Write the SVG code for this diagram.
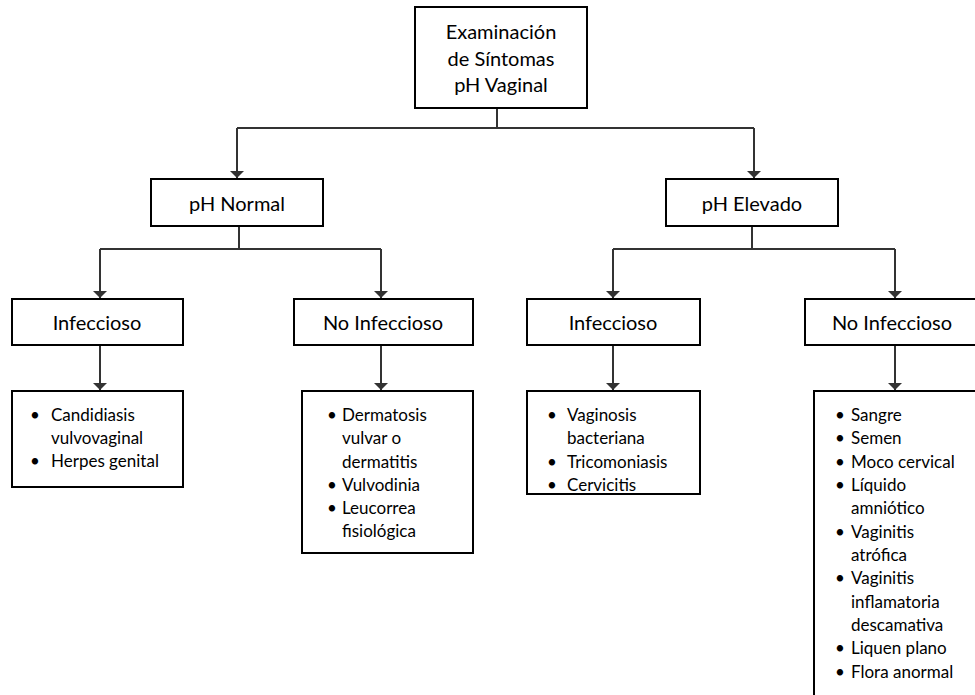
<svg xmlns="http://www.w3.org/2000/svg" width="975" height="695" viewBox="0 0 975 695">
<style>
.box{fill:#fff;stroke:#000;stroke-width:2}
.t{font-family:Lato,"Liberation Sans",sans-serif;fill:#000}
.h{font-size:20px;text-anchor:middle}
.l{font-size:17px}
.c{fill:none;stroke:#333;stroke-width:2}
</style>
<defs>
<marker id="ah" markerWidth="7" markerHeight="14" refX="7" refY="7" orient="auto" markerUnits="userSpaceOnUse" viewBox="0 0 7 14">
<path d="M0,0 L7,7 L0,14 Z" fill="#333"/>
</marker>
</defs>
<rect width="975" height="695" fill="#fff"/>
<g id="connectors">
<path class="c" d="M497,108 V128"/>
<path class="c" d="M237,128 H754"/>
<path class="c" d="M237,128 V178" marker-end="url(#ah)"/>
<path class="c" d="M754,128 V178" marker-end="url(#ah)"/>
<path class="c" d="M239,226 V249"/>
<path class="c" d="M100,249 H381"/>
<path class="c" d="M100,249 V298" marker-end="url(#ah)"/>
<path class="c" d="M381,249 V298" marker-end="url(#ah)"/>
<path class="c" d="M752,226 V249"/>
<path class="c" d="M613,249 H895"/>
<path class="c" d="M613,249 V298" marker-end="url(#ah)"/>
<path class="c" d="M895,249 V298" marker-end="url(#ah)"/>
<path class="c" d="M100,345 V390" marker-end="url(#ah)"/>
<path class="c" d="M381,345 V390" marker-end="url(#ah)"/>
<path class="c" d="M613,345 V390" marker-end="url(#ah)"/>
<path class="c" d="M895,345 V390" marker-end="url(#ah)"/>
</g>
<g id="root">
<rect class="box" x="415" y="7" width="172" height="101"/>
<text class="t h" x="501" y="39">Examinación</text>
<text class="t h" x="501" y="66">de Síntomas</text>
<text class="t h" x="501" y="92">pH Vaginal</text>
</g>
<g id="ph-normal">
<rect class="box" x="151" y="179" width="172" height="47"/>
<text class="t h" x="237" y="211">pH Normal</text>
</g>
<g id="ph-elevado">
<rect class="box" x="666" y="179" width="172" height="47"/>
<text class="t h" x="752" y="211">pH Elevado</text>
</g>
<g id="inf-normal">
<rect class="box" x="12" y="299" width="171" height="46"/>
<text class="t h" x="97" y="330">Infeccioso</text>
</g>
<g id="noinf-normal">
<rect class="box" x="294" y="299" width="179" height="46"/>
<text class="t h" x="383" y="330">No Infeccioso</text>
</g>
<g id="inf-elevado">
<rect class="box" x="527" y="299" width="173" height="46"/>
<text class="t h" x="613" y="330">Infeccioso</text>
</g>
<g id="noinf-elevado">
<rect class="box" x="805" y="299" width="180" height="46"/>
<text class="t h" x="892" y="330">No Infeccioso</text>
</g>
<g id="list-inf-normal">
<rect class="box" x="12" y="391" width="171" height="96"/>
<g class="t l">
<text x="30" y="421">•</text><text x="51" y="421">Candidiasis</text>
<text x="51" y="444">vulvovaginal</text>
<text x="30" y="467">•</text><text x="51" y="467">Herpes genital</text>
</g>
</g>
<g id="list-noinf-normal">
<rect class="box" x="302" y="391" width="171" height="162"/>
<g class="t l">
<text x="327" y="421">•</text><text x="342" y="421">Dermatosis</text>
<text x="342" y="444">vulvar o</text>
<text x="342" y="468">dermatitis</text>
<text x="327" y="491">•</text><text x="342" y="491">Vulvodinia</text>
<text x="327" y="514">•</text><text x="342" y="514">Leucorrea</text>
<text x="342" y="537">fisiológica</text>
</g>
</g>
<g id="list-inf-elevado">
<rect class="box" x="527" y="391" width="173" height="103"/>
<g class="t l">
<text x="547" y="421">•</text><text x="567" y="421">Vaginosis</text>
<text x="567" y="444">bacteriana</text>
<text x="547" y="468">•</text><text x="567" y="468">Tricomoniasis</text>
<text x="547" y="491">•</text><text x="567" y="491">Cervicitis</text>
</g>
</g>
<g id="list-noinf-elevado">
<rect class="box" x="814" y="391" width="180" height="320"/>
<g class="t l">
<text x="835" y="421">•</text><text x="851" y="421">Sangre</text>
<text x="835" y="444">•</text><text x="851" y="444">Semen</text>
<text x="835" y="468">•</text><text x="851" y="468">Moco cervical</text>
<text x="835" y="491">•</text><text x="851" y="491">Líquido</text>
<text x="851" y="514">amniótico</text>
<text x="835" y="538">•</text><text x="851" y="538">Vaginitis</text>
<text x="851" y="561">atrófica</text>
<text x="835" y="584">•</text><text x="851" y="584">Vaginitis</text>
<text x="851" y="608">inflamatoria</text>
<text x="851" y="631">descamativa</text>
<text x="835" y="654">•</text><text x="851" y="654">Liquen plano</text>
<text x="835" y="678">•</text><text x="851" y="678">Flora anormal</text>
</g>
</g>
</svg>
